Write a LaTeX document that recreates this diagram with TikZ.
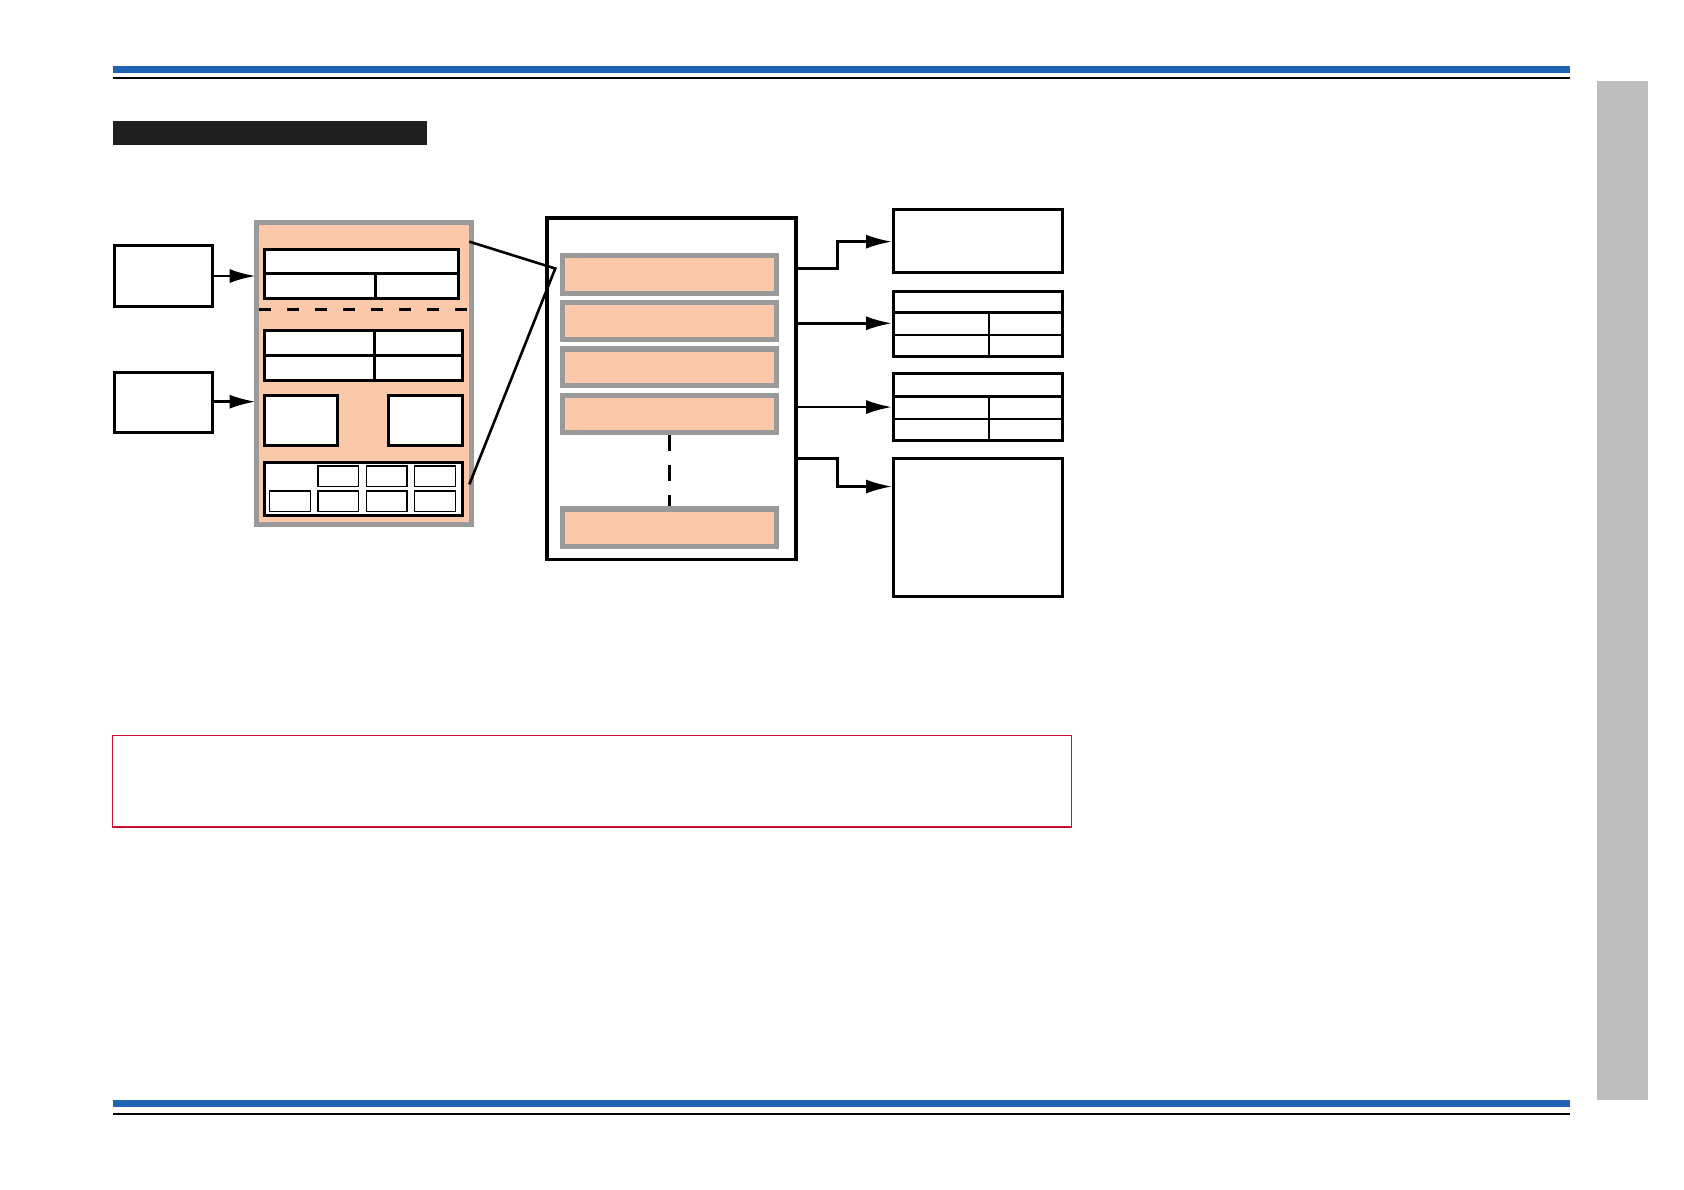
\documentclass[tikz,border=0pt]{standalone}
\usetikzlibrary{fit,arrows.meta}
\definecolor{bluebar}{HTML}{1F64B4}
\definecolor{pinkf}{HTML}{FBC9AA}
\definecolor{grayb}{HTML}{9A9A9A}
\definecolor{sideg}{HTML}{BDBDBD}
\definecolor{redb}{HTML}{C8102E}
\begin{document}
\begin{tikzpicture}[x=0.537pt,y=-0.537pt,
  bx/.style={draw=black,line width=1.5pt,fill=white,inner sep=0pt},
  thinbx/.style={draw=black,line width=0.7pt,fill=white,inner sep=0pt},
  pinkbar/.style={draw=grayb,line width=2.6pt,fill=pinkf,inner sep=0pt},
  arr/.style={line width=1.3pt,-{Latex[length=13pt,width=7pt]}},
  conn/.style={line width=1.3pt}]
\useasboundingbox (0,0) rectangle (1568,1108);
% header / footer
\fill[bluebar] (105,61) rectangle (1462,68);
\fill[black] (105,72) rectangle (1462,74);
\fill[bluebar] (105,1024) rectangle (1462,1031);
\fill[black] (105,1036) rectangle (1462,1038);
\fill[sideg] (1487,75) rectangle (1534,1024);
\fill[black!88] (105,113) rectangle (398,135);
% left inputs
\node[bx,fit={(107,229)(198,285)}] (inA) {};
\node[bx,fit={(107,347)(198,403)}] (inB) {};
% big block
\node[draw=grayb,line width=2.6pt,fill=pinkf,inner sep=0pt,fit={(239,207)(439,488)}] (blk) {};
\coordinate (tA) at (238,257);
\coordinate (tB) at (238,374);
\draw[arr] (inA.east |- tA) -- (tA);
\draw[arr] (inB.east |- tB) -- (tB);
\node[bx,fit={(246,232)(427,278)}] (top) {};
\draw[line width=1.5pt] (246,255) -- (427,255);
\draw[line width=1.5pt] (350,255) -- (350,278);
\draw[line width=1.5pt,dash pattern=on 6pt off 8pt] (241,288) -- (437,288);
\node[bx,fit={(246,308)(431,354)}] (tab) {};
\draw[line width=1.5pt] (246,331) -- (431,331);
\draw[line width=1.5pt] (349,308) -- (349,354);
\node[bx,fit={(246,368)(314,415)}] (sq1) {};
\node[bx,fit={(362,368)(431,415)}] (sq2) {};
\node[bx,fit={(246,431)(431,480)}] (grid) {};
\foreach \x in {296,341,386}{\node[thinbx,fit={(\x,434)(\x+38,453)}] {};}
\foreach \x in {251,296,341,386}{\node[thinbx,fit={(\x,457)(\x+38,476)}] {};}
% middle box
\node[draw=black,line width=1.9pt,fill=white,inner sep=0pt,fit={(509,203)(741,521)}] (mid) {};
\coordinate (zp) at (517,250);
\draw[conn] (437,225) -- (zp) -- (437,451);
\foreach \a/\b/\n in {238/273/p1,282/316/p2,325/359/p3,368/403/p4,474/509/p5}
  {\node[pinkbar,fit={(524,\a)(723,\b)}] (\n) {};}
\draw[line width=1.8pt,dash pattern=on 8pt off 7pt] (p4.south) -- (p5.north);
% right boxes
\node[bx,fit={(832,195)(989,254)}] (r1) {};
\node[bx,fit={(832,271)(989,332)}] (r2) {};
\draw[line width=1.5pt] (832,291) -- (989,291);
\draw[line width=0.9pt] (832,312) -- (989,312);
\draw[line width=0.9pt] (921,291) -- (921,332);
\node[bx,fit={(832,348)(989,410)}] (r3) {};
\draw[line width=1.5pt] (832,369) -- (989,369);
\draw[line width=0.9pt] (832,390) -- (989,390);
\draw[line width=0.9pt] (921,369) -- (921,410);
\node[bx,fit={(832,427)(989,555)}] (r4) {};
% connectors
\draw[arr] (mid.east |- 0,250) -- (780,250) -- (780,225) -- (r1.west |- 0,225);
\draw[arr] (mid.east |- 0,301) -- (r2.west |- 0,301);
\draw[arr] (mid.east |- 0,379) -- (r3.west |- 0,379);
\draw[arr] (mid.east |- 0,427) -- (780,427) -- (780,453) -- (r4.west |- 0,453);
% note box
\node[draw=redb,line width=0.6pt,inner sep=0pt,fit={(105,685)(998,770)}] (note) {};
\end{tikzpicture}
\end{document}
